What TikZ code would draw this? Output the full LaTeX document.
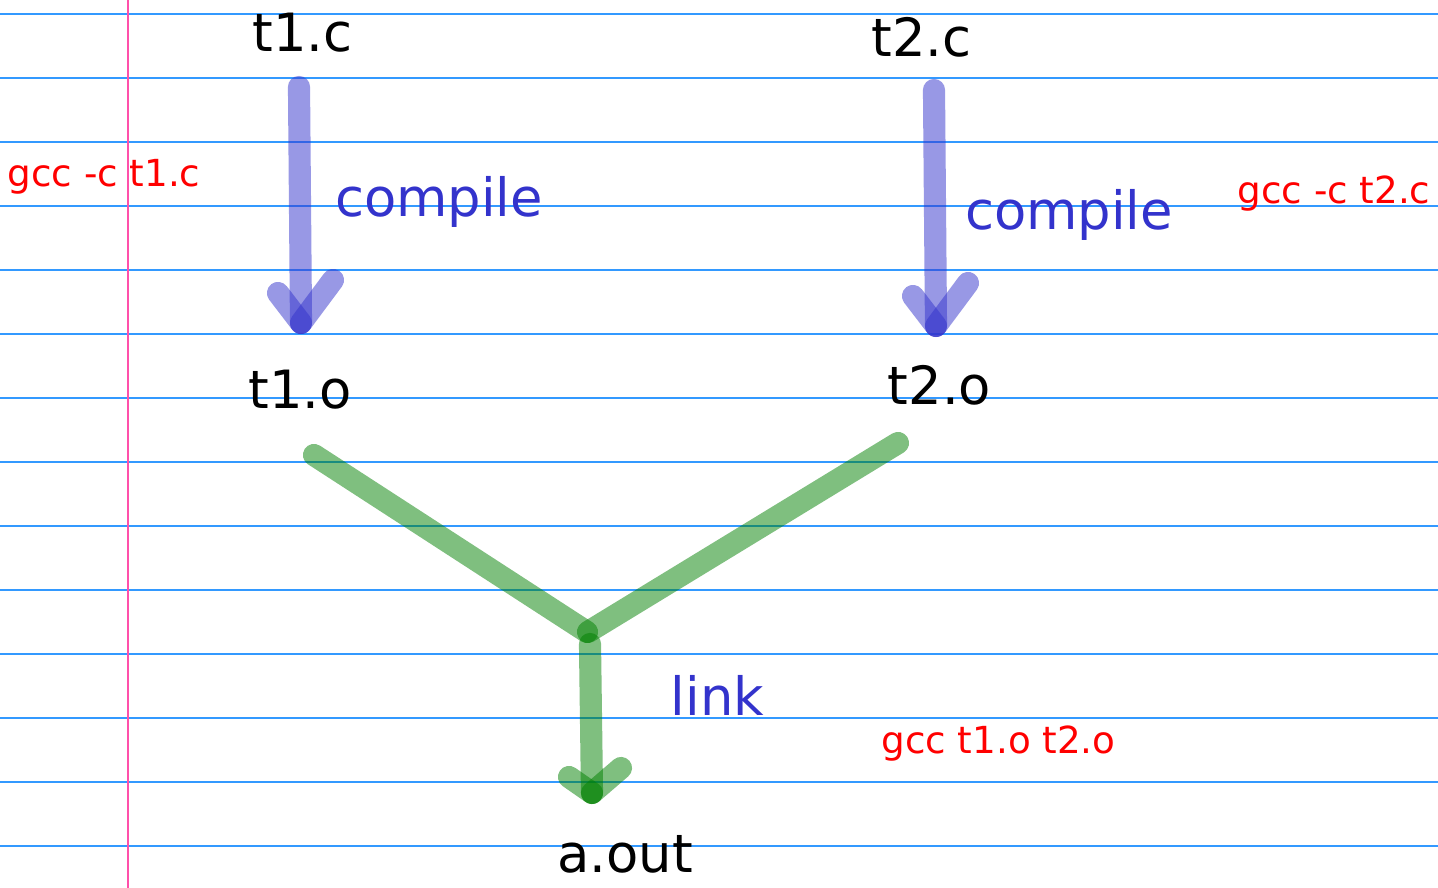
\documentclass[tikz,border=0pt]{standalone}
\usepackage{fontspec}
\setmainfont{DejaVu Sans}
\definecolor{ruleblue}{RGB}{51,153,255}
\definecolor{marginpink}{RGB}{255,80,170}
\definecolor{inkblue}{RGB}{51,51,204}
\definecolor{inkgreen}{RGB}{0,128,0}
\definecolor{txtblue}{RGB}{51,51,204}
\begin{document}
\begin{tikzpicture}[x=0.01cm,y=-0.01cm,
  rule/.style={draw=ruleblue,line width=0.3pt},
  bstroke/.style={draw=inkblue,draw opacity=0.5,line width=6.3pt,line cap=round},
  gstroke/.style={draw=inkgreen,draw opacity=0.5,line width=6.3pt,line cap=round},
  fname/.style={anchor=base,inner sep=0pt,font=\fontsize{15pt}{16pt}\selectfont,text=black},
  action/.style={anchor=base,inner sep=0pt,font=\fontsize{15pt}{16pt}\selectfont,text=txtblue},
  cmd/.style={anchor=base,inner sep=0pt,font=\fontsize{10.6pt}{12pt}\selectfont,text=red}]
\useasboundingbox (0,0) rectangle (1438,888);
\fill[white] (0,0) rectangle (1438,888);
% ruled paper
\foreach \yy in {14,78,142,206,270,334,398,462,526,590,654,718,782,846}
  \draw[rule] (0,\yy) -- (1438,\yy);
\draw[draw=marginpink,line width=0.6pt] (128,0) -- (128,888);
% labels
\node[fname] (t1c) at (302.5,52) {t1.c};
\node[fname] (t2c) at (921.5,57) {t2.c};
\node[fname] (t1o) at (300,409) {t1.o};
\node[fname] (t2o) at (939.5,405) {t2.o};
\node[fname] (aout) at (625,873) {a.out};
\node[action] (comp1) at (439,217) {compile};
\node[action] (comp2) at (1069,230) {compile};
\node[action] (link) at (717.5,716) {link};
\node[cmd] (cmd1) at (104,187) {gcc -c t1.c};
\node[cmd] (cmd2) at (1334,204) {gcc -c t2.c};
\node[cmd] (cmd3) at (998.5,754) {gcc t1.o t2.o};
% stroke points
\coordinate (a1s) at (299,87);  \coordinate (a1e) at (301,323);
\coordinate (a1l) at (278,293); \coordinate (a1r) at (333,280);
\coordinate (a2s) at (934,90);  \coordinate (a2e) at (936,326);
\coordinate (a2l) at (913,296); \coordinate (a2r) at (968,283);
\coordinate (g1s) at (314,455); \coordinate (g1e) at (587,632);
\coordinate (g2s) at (898,443); \coordinate (g2e) at (588,632);
\coordinate (g3s) at (590,644); \coordinate (g3e) at (592,793);
\coordinate (g3l) at (569,777); \coordinate (g3r) at (621,768);
% compile arrows
\draw[bstroke] (a1s) -- (a1e);
\draw[bstroke] (a1l) -- (a1e);
\draw[bstroke] (a1r) -- (a1e);
\draw[bstroke] (a2s) -- (a2e);
\draw[bstroke] (a2l) -- (a2e);
\draw[bstroke] (a2r) -- (a2e);
% link
\draw[gstroke] (g1s) -- (g1e);
\draw[gstroke] (g2s) -- (g2e);
\draw[gstroke] (g3s) -- (g3e);
\draw[gstroke] (g3l) -- (g3e);
\draw[gstroke] (g3r) -- (g3e);
\end{tikzpicture}
\end{document}
